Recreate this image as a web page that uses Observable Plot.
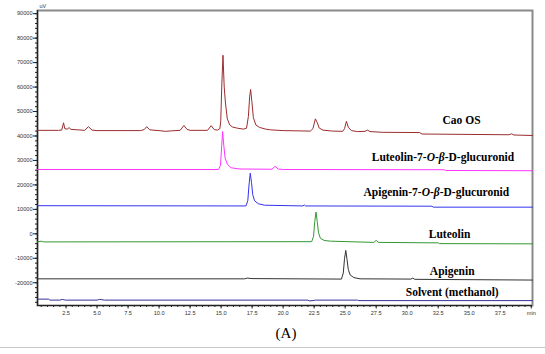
<!DOCTYPE html>
<html>
<head>
<meta charset="utf-8">
<script src="https://cdn.jsdelivr.net/npm/d3@7"></script>
<script src="https://cdn.jsdelivr.net/npm/@observablehq/plot@0.6"></script>
<style>
  html, body { margin: 0; padding: 0; background: #fff; }
  #wrap { position: relative; width: 545px; height: 354px; overflow: hidden; }
  #cap { position: absolute; left: 0; top: 320px; width: 545px; height: 27px; line-height: 27px;
         text-align: center; padding-left: 27px; box-sizing: border-box;
         font-family: "Liberation Serif", "Times New Roman", serif; font-size: 15px; color: #000; }
  #border { position: absolute; left: 0; top: 347px; width: 545px; height: 1px; background: #c8c8c8; }
</style>
</head>
<body>
<div id="wrap"><div id="chart"></div><div id="cap">(A)</div><div id="border"></div></div>
<script>
// ---- data (retention time in min, signal in uV) ----
const seriesNames = ["Cao OS", "Luteolin-7-O-β-D-glucuronid", "Apigenin-7-O-β-D-glucuronid", "Luteolin", "Apigenin", "Solvent (methanol)"];

const caoOS = [
  [0.2,42300],[1.9,42300],[2.15,42400],[2.3,45400],[2.4,43000],[2.6,42800],[2.75,43400],[2.9,42700],
  [3.5,42500],[4.0,42300],[4.3,43800],[4.6,42400],[5.0,42200],[8.5,42200],[8.8,42600],[9.0,43800],
  [9.25,42500],[10.0,42200],[10.5,41900],[11.0,42100],[11.7,42300],[12.0,44300],[12.25,42700],[12.5,42300],
  [13.9,42300],[14.2,44200],[14.45,42600],[14.7,42400],[14.9,43000],[14.97,46000],[15.05,60000],[15.15,73000],
  [15.25,60000],[15.35,53500],[15.5,47000],[15.7,44500],[15.9,43700],[16.3,43200],[16.8,42800],[17.05,43200],
  [17.2,48000],[17.3,56000],[17.38,59000],[17.48,54000],[17.6,47500],[17.8,44500],[18.1,43500],[18.6,42800],
  [19.0,42500],[20.0,42200],[22.2,42000],[22.4,43000],[22.6,47000],[22.75,45500],[22.9,43300],[23.2,42400],
  [24.0,42000],[24.8,41900],[24.95,43000],[25.1,46000],[25.25,43600],[25.5,42200],[26.0,41800],[26.6,41900],
  [26.8,42400],[27.0,41800],[28.0,41500],[31.0,41400],[31.2,40800],[38.2,40500],[38.4,40900],[38.6,40400],[40.1,40200]
];
const lut7g = [
  [0.2,26300],[14.8,26300],[14.95,28000],[15.05,36000],[15.12,41800],[15.22,36000],[15.32,31000],[15.5,28500],
  [15.8,27000],[16.5,26500],[19.1,26400],[19.35,27600],[19.6,26500],[20.0,26300],[33.0,26200],[33.1,25900],[40.1,25800]
];
const api7g = [
  [0.2,11500],[17.0,11400],[17.15,13500],[17.25,20000],[17.35,24800],[17.45,21000],[17.55,16000],[17.7,13500],
  [18.0,12300],[18.5,11700],[21.6,11400],[21.7,11800],[21.8,11400],[32.0,11300],[32.1,10900],[40.1,10900]
];
const luteolin = [
  [0.2,-3300],[0.5,-3000],[0.7,-3300],[22.3,-3200],[22.45,-1000],[22.55,5000],[22.65,8900],[22.75,5000],
  [22.85,500],[23.0,-1800],[23.3,-2700],[23.8,-3000],[27.3,-3500],[27.5,-2700],[27.7,-3500],[32.5,-3700],[32.6,-4000],[40.1,-4100]
];
const apigenin = [
  [0.2,-18400],[16.9,-18400],[17.1,-18100],[17.5,-18300],[24.7,-18500],[24.85,-16000],[24.95,-10000],[25.05,-6800],
  [25.15,-10500],[25.25,-14500],[25.4,-16800],[25.7,-17900],[26.2,-18400],[30.3,-18500],[30.45,-18100],[30.6,-18600],[40.1,-18900]
];
const solvent = [
  [0.2,-26700],[1.1,-26700],[1.2,-27100],[2.0,-27100],[2.2,-26800],[2.45,-27100],[5.0,-27100],[5.2,-26800],
  [5.6,-27100],[22.0,-27100],[22.1,-27400],[22.4,-27300],[22.6,-27100],[26.0,-27100],[26.1,-27300],[40.1,-27300]
];
const traces = [caoOS, lut7g, api7g, luteolin, apigenin, solvent];
const seriesColors = ["#9b2d2d", "#ff33ff", "#3333ee", "#339933", "#333333", "#333399"];

// label anchor points (data units)
const labelT = [34.38, 32.88, 32.35, 33.41, 33.63, 33.63];
const labelV = [46300, 31300, 17000, 0, -15400, -23900];

const yMajor = d3.range(-20000, 90001, 10000);
const yMinor = d3.range(-28000, 91000, 2000);
const xMajor = d3.range(2.5, 40.01, 2.5);
const xMinor = d3.range(0.5, 40.01, 0.5);

// ---- build tables ----
const rows = [];
traces.forEach((pts, i) => pts.forEach(([t, v]) => rows.push({series: seriesNames[i], t, v})));
const labels = seriesNames.map((s, i) => ({s, t: labelT[i], v: labelV[i]}));

const tickFont = {fontFamily: "Arial, 'Liberation Sans', sans-serif", fontSize: 5.6, fill: "#333"};

const plot = Plot.plot({
  width: 545, height: 320,
  marginLeft: 37, marginRight: 13, marginTop: 10, marginBottom: 15,
  x: {domain: [0.2, 40.1]},
  y: {domain: [-29300, 91300]},
  color: {domain: seriesNames, range: seriesColors},
  style: {fontFamily: "Arial, 'Liberation Sans', sans-serif", background: "#fff"},
  marks: [
    Plot.frame({stroke: "#8a8a8a", strokeWidth: 2}),
    Plot.axisY({ticks: yMinor, tickSize: 2, tickFormat: () => "", label: null, stroke: "#222"}),
    Plot.axisY({ticks: yMajor, tickSize: 4, tickPadding: 1, tickFormat: d => String(d), label: null, stroke: "#222", ...tickFont}),
    Plot.axisX({ticks: xMinor, tickSize: 2, tickFormat: () => "", label: null, stroke: "#222"}),
    Plot.axisX({ticks: xMajor, tickSize: 3.5, tickPadding: 2, tickFormat: d => d >= 40 ? "min" : d.toFixed(1), label: null, stroke: "#222", ...tickFont}),
    Plot.ruleX([0.2], {stroke: "#222", strokeWidth: 1.2}),
    Plot.ruleY([-29300], {stroke: "#222", strokeWidth: 1.2}),
    Plot.line(rows, {x: "t", y: "v", z: "series", stroke: "series", strokeWidth: 1, curve: "linear"}),
    Plot.text(labels, {x: "t", y: "v", text: "s", className: "lbl",
      fontFamily: "'Liberation Serif', 'Times New Roman', serif", fontWeight: "bold", fontSize: 11.5, fill: "#000"}),
    Plot.text(["uV"], {frameAnchor: "top-left", dx: 2, dy: -6, text: d => d, ...tickFont, fontSize: 5.5})
  ]
});

// italicise O and β in the glucuronide labels
for (const el of plot.querySelectorAll("text")) {
  const s = el.textContent;
  if (s.includes("-O-β-") && el.children.length === 0) {
    const [pre, post] = s.split("-O-β-");
    el.textContent = "";
    const ns = "http://www.w3.org/2000/svg";
    const add = (txt, ital) => {
      const sp = document.createElementNS(ns, "tspan");
      sp.textContent = txt;
      if (ital) sp.setAttribute("font-style", "italic");
      el.appendChild(sp);
    };
    add(pre + "-", false); add("O", true); add("-", false); add("β", true); add("-" + post, false);
  }
}
plot.style.display = "block";
document.getElementById("chart").appendChild(plot);
</script>
</body>
</html>
